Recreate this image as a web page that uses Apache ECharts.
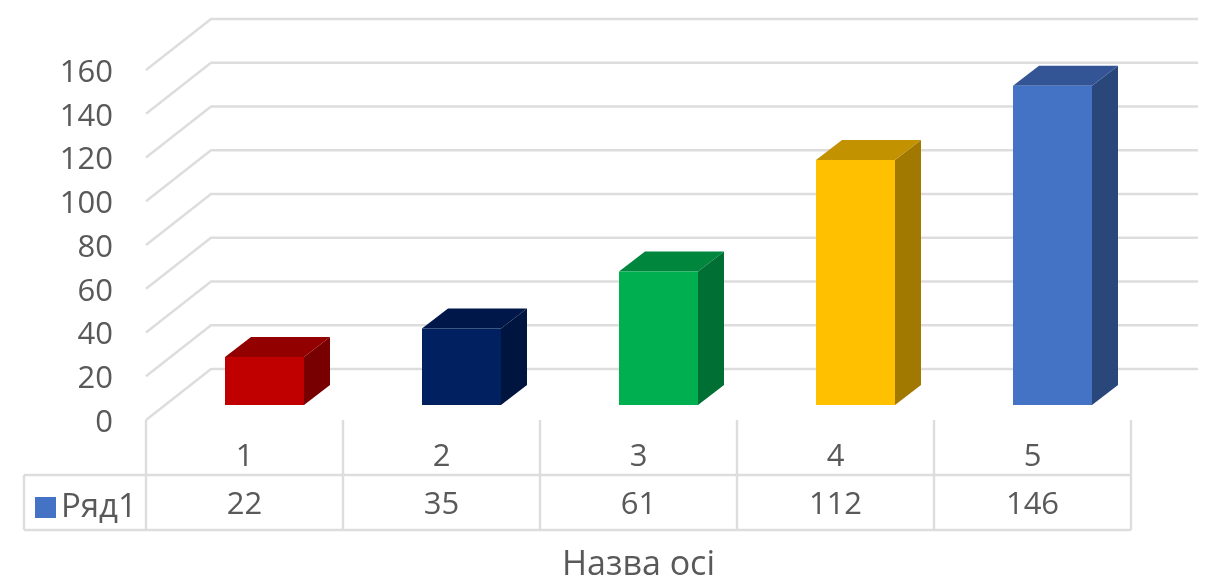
<!DOCTYPE html>
<html><head><meta charset="utf-8">
<style>html,body{margin:0;padding:0;background:#fff}#c{width:1211px;height:580px}</style>
<script src="https://cdn.jsdelivr.net/npm/echarts@6/dist/echarts.min.js"></script>
</head><body><div id="c"></div>
<script>
var seriesName = 'Ряд1';
var categories = ['1','2','3','4','5'];
var seriesValues = [22,35,61,112,146];
var yTicks = [0,20,40,60,80,100,120,140,160];
var axisTitle = 'Назва осі';
var frontColors = ['#C00000','#002060','#00B050','#FFC000','#4472C4'];
var topColors = ['#920000','#001849','#00863D','#C29200','#335595'];
var sideColors = ['#790000','#001440','#006F33','#A17900','#2A477C'];

var FONT = '"Open Sans", sans-serif', TXT = '#595959', LINE = '#DDDDDD';
var WALL = [65,-51], GAP = [20,-15], DEPTH = [26,-20], BAR_W = 79, BACK_LEN = 987;
var chart = echarts.init(document.getElementById('c'), null, {renderer:'canvas'});

function gridLines(params, api){
  var p = api.coord([0, api.value(1)]);
  var x0 = p[0] - api.size([1,0])[0]/2, y0 = p[1];
  var bx = x0 + WALL[0], by = y0 + WALL[1];
  return {type:'polyline', shape:{points:[[x0,y0],[bx,by],[bx+BACK_LEN,by]]},
    style:{stroke:LINE, lineWidth:2.4, fill:null}};
}
function bars(params, api){
  var i = params.dataIndex, idx = api.value(0), v = api.value(1);
  var top = api.coord([idx, v]), base = api.coord([idx, 0]);
  var x = top[0] - BAR_W/2 + GAP[0], x2 = x + BAR_W;
  var yt = top[1] + GAP[1], yb = base[1] + GAP[1];
  var dx = DEPTH[0], dy = DEPTH[1];
  return {type:'group', children:[
    {type:'polygon', shape:{points:[[x2,yt],[x2+dx,yt+dy],[x2+dx,yb+dy],[x2,yb]]}, style:{fill:sideColors[i]}},
    {type:'polygon', shape:{points:[[x,yt],[x+dx,yt+dy],[x2+dx,yt+dy],[x2,yt]]}, style:{fill:topColors[i]}},
    {type:'rect', shape:{x:x, y:yt, width:BAR_W, height:yb-yt}, style:{fill:frontColors[i]}}
  ]};
}
function table(params, api){
  var i = params.dataIndex, base = api.coord([i, 0]);
  var w = api.size([1,0])[0], l = base[0]-w/2, r = l+w, y0 = base[1];
  var ROW1 = 55, ROW2 = 110, LEG = 24;
  var s = {stroke:LINE, lineWidth:2.4};
  var kids = [
    {type:'line', shape:{x1:l,y1:y0,x2:l,y2:y0+ROW2}, style:s},
    {type:'line', shape:{x1:l,y1:y0+ROW1,x2:r,y2:y0+ROW1}, style:s},
    {type:'line', shape:{x1:l,y1:y0+ROW2,x2:r,y2:y0+ROW2}, style:s},
    {type:'text', style:{text:String(seriesValues[i]), x:base[0], y:y0+85, align:'center', verticalAlign:'middle',
      font:'31px '+FONT, fill:TXT}}
  ];
  if(i === categories.length-1) kids.push({type:'line', shape:{x1:r,y1:y0,x2:r,y2:y0+ROW2}, style:s});
  if(i === 0){
    kids.push({type:'line', shape:{x1:LEG,y1:y0+ROW1,x2:l,y2:y0+ROW1}, style:s});
    kids.push({type:'line', shape:{x1:LEG,y1:y0+ROW2,x2:l,y2:y0+ROW2}, style:s});
    kids.push({type:'line', shape:{x1:LEG,y1:y0+ROW1,x2:LEG,y2:y0+ROW2}, style:s});
  }
  return {type:'group', children:kids};
}

chart.setOption({
  animation:false,
  backgroundColor:'#fff',
  grid:{left:146, top:70, width:985, height:350, containLabel:false, outerBoundsMode:'none'},
  legend:{data:[seriesName], left:35, top:491, itemWidth:21, itemHeight:21, itemGap:0, padding:0,
    icon:'rect', selectedMode:false,
    textStyle:{fontFamily:FONT, fontSize:33, color:TXT}},
  xAxis:{type:'category', data:categories,
    axisLine:{show:false}, axisTick:{show:false}, splitLine:{show:false},
    axisLabel:{margin:22, fontFamily:FONT, fontSize:31, color:TXT},
    name:axisTitle, nameLocation:'middle', nameGap:128,
    nameTextStyle:{fontFamily:FONT, fontSize:34, color:TXT}},
  yAxis:{type:'value', min:0, max:160, interval:20,
    axisLine:{show:false}, axisTick:{show:false}, splitLine:{show:false},
    axisLabel:{margin:33, fontFamily:FONT, fontSize:31, color:TXT, verticalAlign:'top', lineHeight:6}},
  series:[
    {type:'custom', name:'grid', silent:true, z:1, renderItem:gridLines, data:yTicks.map(function(v){return [0,v];})},
    {type:'custom', name:'table', silent:true, z:1, renderItem:table, data:categories.map(function(c,i){return [i,0];})},
    {type:'custom', name:seriesName, z:3, renderItem:bars, itemStyle:{color:'#4472C4'},
      data:seriesValues.map(function(v,i){return [i,v];})}
  ]
});
</script></body></html>
